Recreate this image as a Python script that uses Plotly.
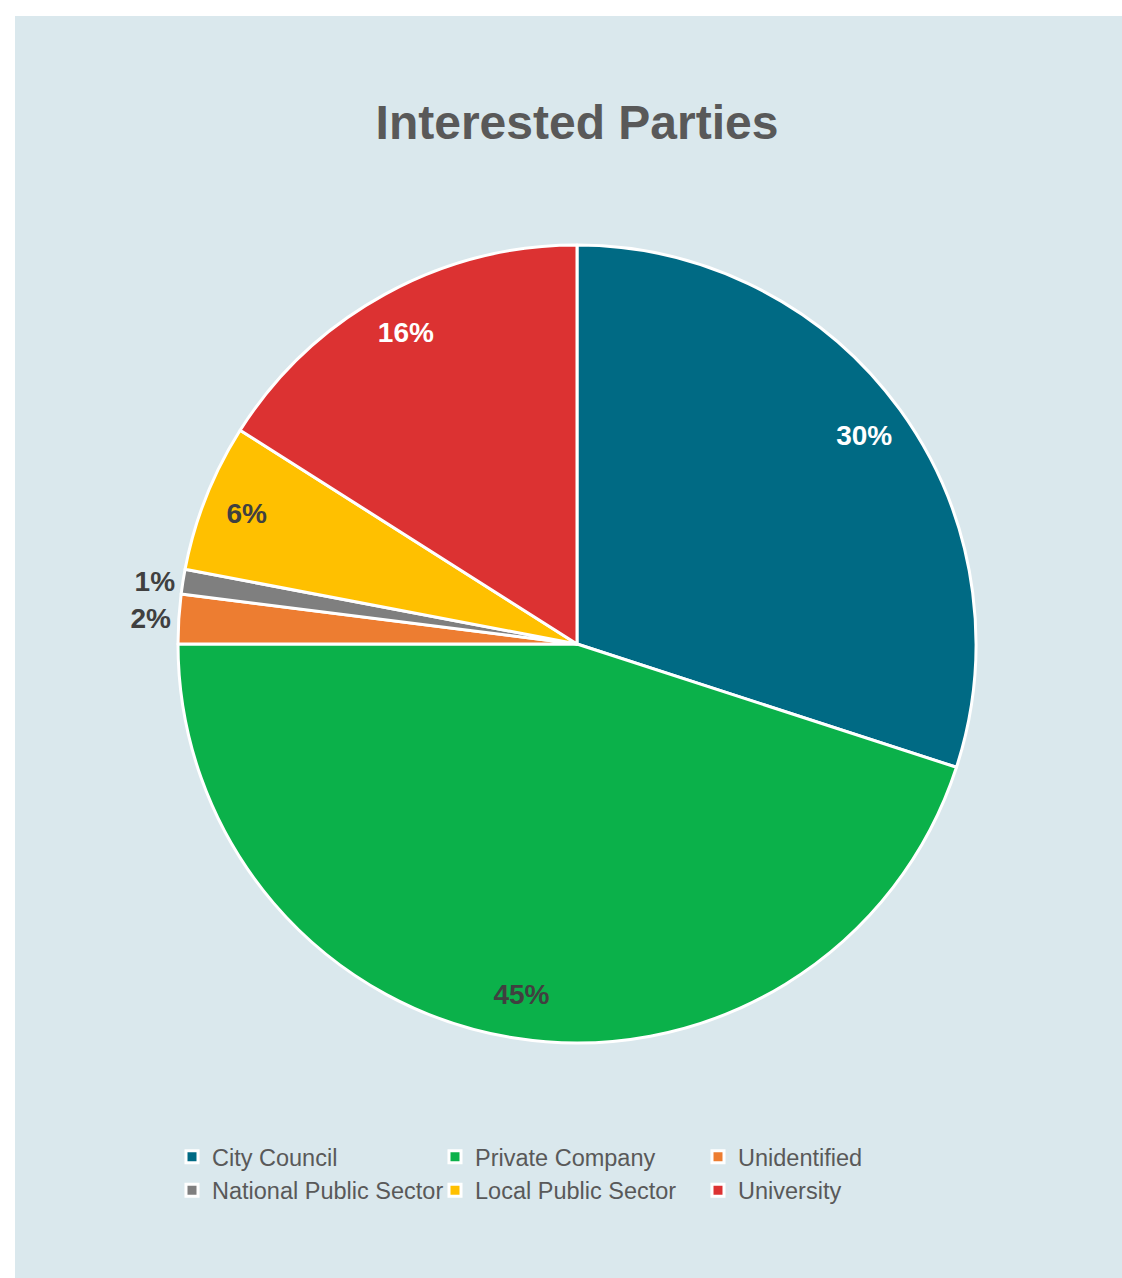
import plotly.graph_objects as go

# Interested parties: share of each stakeholder type (percent)
categories = ["City Council", "Private Company", "Unidentified",
              "National Public Sector", "Local Public Sector", "University"]
shares = [30, 45, 2, 1, 6, 16]
slice_colors = ["#006A84", "#0BB14A", "#ED7D31", "#7F7F7F", "#FFC000", "#DC3232"]
label_colors = ["#FFFFFF", "#404040", "#404040", "#404040", "#404040", "#FFFFFF"]
label_positions = ["inside", "inside", "outside", "outside", "inside", "inside"]

W, H = 1122, 1278
ML, MR = 170, 140          # side margins (keep the legend at three entries per row)
PW = W - ML - MR
BG = "#DAE8ED"
FONT = "Liberation Sans, Arial, sans-serif"


def px_x(px):
    """Horizontal pixel position -> paper fraction."""
    return (px - ML) / PW


def px_y(py):
    """Vertical pixel position (from top) -> paper fraction."""
    return 1 - py / H


pie_domain = dict(x=[px_x(178), px_x(976)], y=[px_y(1043), px_y(245)])
common = dict(labels=categories, values=shares, sort=False,
              direction="clockwise", rotation=0, domain=pie_domain)

fig = go.Figure()

# The slices themselves
fig.add_trace(
    go.Pie(
        **common,
        marker=dict(colors=slice_colors, line=dict(color="white", width=3)),
        textinfo="none",
        hoverinfo="label+percent",
    )
)

# Percentage labels, set in an outer ring so they sit near the rim
fig.add_trace(
    go.Pie(
        **common,
        hole=0.78,
        marker=dict(colors=["rgba(0,0,0,0)"] * len(shares), line=dict(width=0)),
        texttemplate="%{percent:.0%}",
        textposition=label_positions,
        insidetextorientation="horizontal",
        textfont=dict(family=FONT, size=28, color=label_colors, weight="bold"),
        outsidetextfont=dict(family=FONT, size=28, color="#404040", weight="bold"),
        hoverinfo="skip",
        showlegend=False,
    )
)

fig.update_layout(
    width=W,
    height=H,
    margin=dict(l=ML, r=MR, t=0, b=0, autoexpand=False),
    paper_bgcolor="white",
    plot_bgcolor="white",
    title=dict(
        text="Interested Parties",
        x=577 / W,
        xanchor="center",
        y=1 - 122 / H,
        yanchor="middle",
        font=dict(family=FONT, size=48, color="#595959", weight="bold"),
    ),
    legend=dict(
        orientation="h",
        x=px_x(172),
        xanchor="left",
        y=px_y(1135),
        yanchor="top",
        entrywidth=218,
        entrywidthmode="pixels",
        font=dict(family=FONT, size=23.5, color="#595959"),
        bgcolor="rgba(0,0,0,0)",
    ),
    shapes=[
        dict(
            type="rect",
            xref="paper",
            yref="paper",
            x0=px_x(15),
            x1=px_x(W),
            y0=0.0,
            y1=px_y(16),
            fillcolor=BG,
            line=dict(width=0),
            layer="below",
        )
    ],
)

fig.write_html("out.html")
